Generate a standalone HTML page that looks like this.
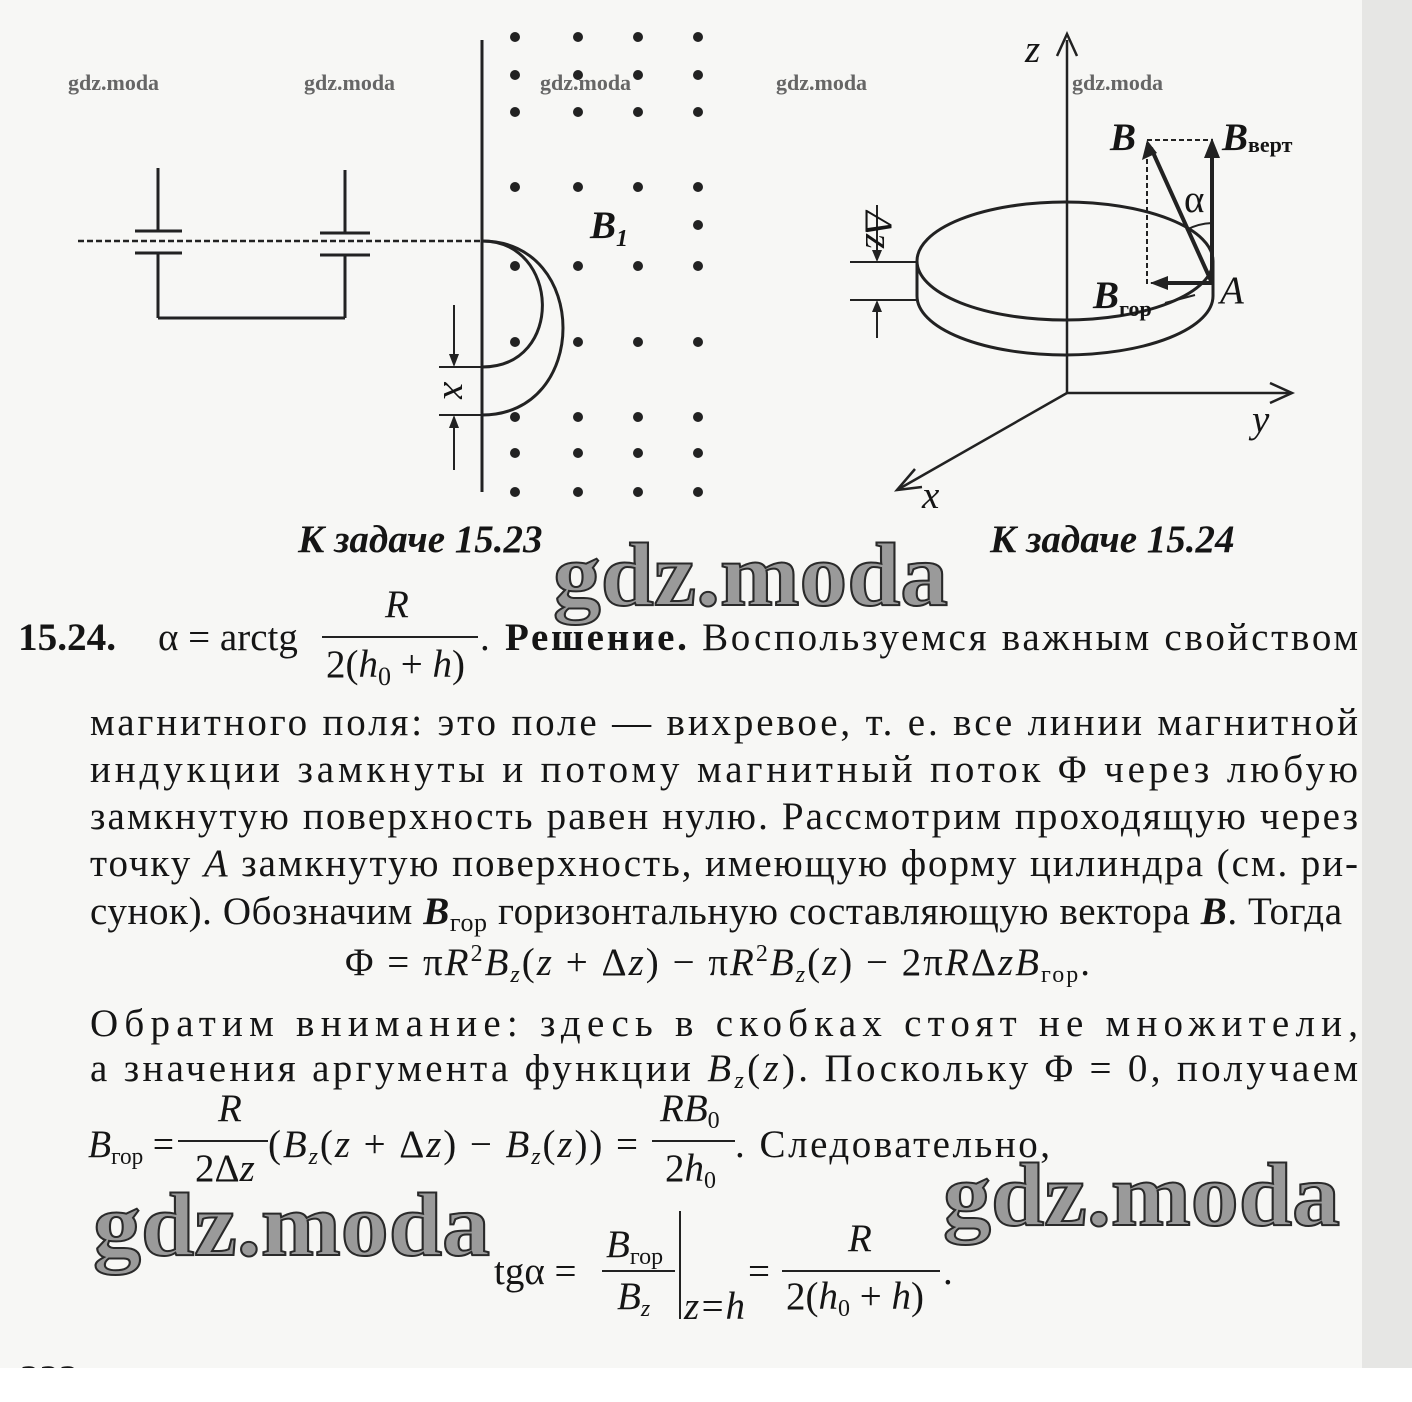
<!DOCTYPE html>
<html><head><meta charset="utf-8"><style>
html,body{margin:0;padding:0;background:#f7f7f5;}
svg{display:block}
.t{font-family:"Liberation Serif",serif;font-size:39px;fill:#151515}
.i{font-style:italic}
.b{font-weight:bold}
.wm{font-family:"Liberation Serif",serif;font-weight:bold;fill:#9a9a9a;stroke:#2a2a2a;stroke-width:2}
.sw{font-family:"Liberation Serif",serif;font-size:22px;fill:#666;font-weight:bold}
</style></head><body>
<svg width="1412" height="1402" viewBox="0 0 1412 1402" xmlns="http://www.w3.org/2000/svg">
<rect x="0" y="0" width="1412" height="1402" fill="#f7f7f5"/>
<rect x="1362" y="0" width="50" height="1368" fill="#e6e6e4"/>

<!-- small watermarks -->
<text class="sw" x="68" y="90">gdz.moda</text>
<text class="sw" x="304" y="90">gdz.moda</text>
<text class="sw" x="540" y="90">gdz.moda</text>
<text class="sw" x="776" y="90">gdz.moda</text>
<text class="sw" x="1072" y="90">gdz.moda</text>

<!-- LEFT FIGURE -->
<g stroke="#222" stroke-width="3" fill="none">
<line x1="482" y1="40" x2="482" y2="492"/>
<line x1="78" y1="241" x2="482" y2="241" stroke-dasharray="6,3" stroke-width="2.5"/>
<line x1="158" y1="168" x2="158" y2="231"/>
<line x1="135" y1="231" x2="182" y2="231"/>
<line x1="135" y1="253" x2="182" y2="253"/>
<line x1="158" y1="253" x2="158" y2="318"/>
<line x1="158" y1="318" x2="345" y2="318"/>
<line x1="345" y1="318" x2="345" y2="255"/>
<line x1="320" y1="233" x2="370" y2="233"/>
<line x1="320" y1="255" x2="370" y2="255"/>
<line x1="345" y1="170" x2="345" y2="233"/>
<path d="M482 241 C560 241 565 367 482 367"/>
<path d="M482 241 C590 241 590 415 482 415"/>
<line x1="439" y1="367" x2="482" y2="367" stroke-width="2"/>
<line x1="439" y1="415" x2="482" y2="415" stroke-width="2"/>
<line x1="454" y1="305" x2="454" y2="360" stroke-width="2"/>
<line x1="454" y1="422" x2="454" y2="470" stroke-width="2"/>
</g>
<polygon points="449,354 459,354 454,367" fill="#222"/>
<polygon points="449,428 459,428 454,415" fill="#222"/>
<text class="t i" x="0" y="0" font-size="30" transform="translate(444,391) rotate(90)" text-anchor="middle">x</text>
<g fill="#222">
<circle cx="515" cy="37" r="5"/><circle cx="578" cy="37" r="5"/><circle cx="638" cy="37" r="5"/><circle cx="698" cy="37" r="5"/>
<circle cx="515" cy="75" r="5"/><circle cx="578" cy="75" r="5"/><circle cx="638" cy="75" r="5"/><circle cx="698" cy="75" r="5"/>
<circle cx="515" cy="112" r="5"/><circle cx="578" cy="112" r="5"/><circle cx="638" cy="112" r="5"/><circle cx="698" cy="112" r="5"/>
<circle cx="515" cy="187" r="5"/><circle cx="578" cy="187" r="5"/><circle cx="638" cy="187" r="5"/><circle cx="698" cy="187" r="5"/>
<circle cx="698" cy="225" r="5"/>
<circle cx="515" cy="266" r="5"/><circle cx="578" cy="266" r="5"/><circle cx="638" cy="266" r="5"/><circle cx="698" cy="266" r="5"/>
<circle cx="515" cy="342" r="5"/><circle cx="578" cy="342" r="5"/><circle cx="638" cy="342" r="5"/><circle cx="698" cy="342" r="5"/>
<circle cx="515" cy="417" r="5"/><circle cx="578" cy="417" r="5"/><circle cx="638" cy="417" r="5"/><circle cx="698" cy="417" r="5"/>
<circle cx="515" cy="453" r="5"/><circle cx="578" cy="453" r="5"/><circle cx="638" cy="453" r="5"/><circle cx="698" cy="453" r="5"/>
<circle cx="515" cy="492" r="5"/><circle cx="578" cy="492" r="5"/><circle cx="638" cy="492" r="5"/><circle cx="698" cy="492" r="5"/>
</g>
<text class="t i b" x="590" y="238" font-size="38">B<tspan font-size="24" dy="8">1</tspan></text>
<text class="t i b" x="298" y="552" font-size="30">К задаче 15.23</text>

<!-- RIGHT FIGURE -->
<g stroke="#222" stroke-width="3" fill="none">
<line x1="1067" y1="40" x2="1067" y2="393" stroke-width="2.5"/>
<polyline points="1057,56 1067,34 1077,56" stroke-width="2.5"/>
<line x1="1067" y1="393" x2="1290" y2="393" stroke-width="2.5"/>
<polyline points="1270,383 1292,393 1270,403" stroke-width="2.5"/>
<line x1="1067" y1="393" x2="897" y2="490" stroke-width="2.5"/>
<polyline points="915,469 897,490 922,487" stroke-width="2.5"/>
<ellipse cx="1065" cy="261" rx="148" ry="59"/>
<path d="M917 296 A148 59 0 0 0 1213 296"/>
<line x1="917" y1="261" x2="917" y2="296"/>
<line x1="1213" y1="261" x2="1213" y2="296"/>
<line x1="850" y1="262" x2="917" y2="262" stroke-width="2"/>
<line x1="850" y1="300" x2="917" y2="300" stroke-width="2"/>
<line x1="877" y1="205" x2="877" y2="255" stroke-width="2"/>
<line x1="877" y1="307" x2="877" y2="338" stroke-width="2"/>
<polyline points="1147,140 1212,140 1212,283 1147,283 1147,140" stroke-width="2" stroke-dasharray="5,3"/>
<line x1="1212" y1="283" x2="1212" y2="150" stroke-width="4"/>
<line x1="1212" y1="283" x2="1151" y2="148" stroke-width="4"/>
<line x1="1212" y1="283" x2="1160" y2="283" stroke-width="4"/>
<line x1="1165" y1="303" x2="1195" y2="295" stroke-width="2"/>
<path d="M1186 230 A60 60 0 0 1 1212 223" stroke-width="2"/>
</g>
<polygon points="872,250 882,250 877,262" fill="#222"/>
<polygon points="872,312 882,312 877,300" fill="#222"/>
<polygon points="1204,158 1220,158 1212,138" fill="#222"/>
<polygon points="1142,160 1157,153 1147,140" fill="#222"/>
<polygon points="1168,276 1168,290 1150,283" fill="#222"/>
<text class="t i" font-size="30" transform="translate(866,230) rotate(90)" text-anchor="middle">Δz</text>
<text class="t i" x="1025" y="62" font-size="32">z</text>
<text class="t i" x="1252" y="432" font-size="32">y</text>
<text class="t i" x="922" y="508" font-size="32">x</text>
<text class="t i b" x="1110" y="150" font-size="38">B</text>
<text class="t i b" x="1222" y="150" font-size="38">B<tspan class="b" font-style="normal" font-size="22" dy="2">верт</tspan></text>
<text class="t" x="1184" y="212" font-size="30">α</text>
<text class="t i" x="1220" y="303" font-size="34">A</text>
<text class="t i b" x="1093" y="308" font-size="38">B<tspan class="b" font-style="normal" font-size="22" dy="8">гор</tspan></text>
<text class="t i b" x="990" y="552" font-size="30">К задаче 15.24</text>

<!-- big watermarks -->
<text class="wm" x="553" y="605" font-size="90" textLength="395" lengthAdjust="spacingAndGlyphs">gdz.moda</text>
<text class="wm" x="93" y="1255" font-size="90" textLength="397" lengthAdjust="spacingAndGlyphs">gdz.moda</text>
<text class="wm" x="943" y="1225" font-size="90" textLength="397" lengthAdjust="spacingAndGlyphs">gdz.moda</text>

<!-- TEXT -->
<g transform="translate(0,-11)">
<text class="t b" x="18" y="661" textLength="98" lengthAdjust="spacingAndGlyphs">15.24.</text>
<text class="t" x="158" y="661">α = arctg</text>
<text class="t i" x="385" y="628">R</text>
<line x1="322" y1="648" x2="478" y2="648" stroke="#222" stroke-width="2"/>
<text class="t" x="326" y="688">2(<tspan class="i">h</tspan><tspan font-size="26" dy="8">0</tspan><tspan dy="-8"> + </tspan><tspan class="i">h</tspan>)</text>
<text class="t" x="480" y="661" textLength="878" lengthAdjust="spacing">. <tspan class="b">Решение.</tspan> Воспользуемся важным свойством</text>

<text class="t" x="90" y="746" textLength="1268" lengthAdjust="spacing">магнитного поля: это поле — вихревое, т. е. все линии магнитной</text>
<text class="t" x="90" y="793" textLength="1268" lengthAdjust="spacing">индукции замкнуты и потому магнитный поток Φ через любую</text>
<text class="t" x="90" y="840" textLength="1268" lengthAdjust="spacing">замкнутую поверхность равен нулю. Рассмотрим проходящую через</text>
<text class="t" x="90" y="887" textLength="1268" lengthAdjust="spacing">точку <tspan class="i">A</tspan> замкнутую поверхность, имеющую форму цилиндра (см. ри-</text>
<text class="t" x="90" y="935" textLength="1252" lengthAdjust="spacing">сунок). Обозначим <tspan class="i b">B</tspan><tspan font-size="26" dy="7">гор</tspan><tspan dy="-7"> горизонтальную составляющую вектора </tspan><tspan class="i b">B</tspan>. Тогда</text>
<text class="t" x="345" y="986" textLength="745" lengthAdjust="spacing">Φ = π<tspan class="i">R</tspan><tspan font-size="24" dy="-14">2</tspan><tspan class="i" dy="14">B</tspan><tspan class="i" font-size="24" dy="7">z</tspan><tspan dy="-7">(</tspan><tspan class="i">z</tspan> + Δ<tspan class="i">z</tspan>) − π<tspan class="i">R</tspan><tspan font-size="24" dy="-14">2</tspan><tspan class="i" dy="14">B</tspan><tspan class="i" font-size="24" dy="7">z</tspan><tspan dy="-7">(</tspan><tspan class="i">z</tspan>) − 2π<tspan class="i">R</tspan>Δ<tspan class="i">zB</tspan><tspan font-size="24" dy="7">гор</tspan><tspan dy="-7">.</tspan></text>
<text class="t" x="90" y="1047" textLength="1268" lengthAdjust="spacing">Обратим внимание: здесь в скобках стоят не множители,</text>
<text class="t" x="90" y="1092" textLength="1268" lengthAdjust="spacing">а значения аргумента функции <tspan class="i">B</tspan><tspan class="i" font-size="24" dy="7">z</tspan><tspan dy="-7">(</tspan><tspan class="i">z</tspan>). Поскольку Φ = 0, получаем</text>

<text class="t" x="88" y="1168" textLength="86" lengthAdjust="spacingAndGlyphs"><tspan class="i">B</tspan><tspan font-size="24" dy="7">гор</tspan><tspan dy="-7"> =</tspan></text>
<text class="t i" x="218" y="1132">R</text>
<line x1="178" y1="1152" x2="268" y2="1152" stroke="#222" stroke-width="2"/>
<text class="t" x="195" y="1192">2Δ<tspan class="i">z</tspan></text>
<text class="t" x="268" y="1168" textLength="370" lengthAdjust="spacing">(<tspan class="i">B</tspan><tspan class="i" font-size="24" dy="7">z</tspan><tspan dy="-7">(</tspan><tspan class="i">z</tspan> + Δ<tspan class="i">z</tspan>) − <tspan class="i">B</tspan><tspan class="i" font-size="24" dy="7">z</tspan><tspan dy="-7">(</tspan><tspan class="i">z</tspan>)) =</text>
<text class="t i" x="660" y="1132">RB<tspan font-style="normal" font-size="24" dy="7">0</tspan></text>
<line x1="652" y1="1152" x2="735" y2="1152" stroke="#222" stroke-width="2"/>
<text class="t" x="665" y="1192">2<tspan class="i">h</tspan><tspan font-size="24" dy="7">0</tspan></text>
<text class="t" x="735" y="1168" textLength="315" lengthAdjust="spacing">. Следовательно,</text>

<text class="t" x="494" y="1295">tgα =</text>
<text class="t i" x="606" y="1268">B<tspan font-style="normal" font-size="24" dy="7">гор</tspan></text>
<line x1="602" y1="1282" x2="675" y2="1282" stroke="#222" stroke-width="2"/>
<text class="t i" x="617" y="1320">B<tspan font-size="24" dy="7">z</tspan></text>
<line x1="680" y1="1222" x2="680" y2="1330" stroke="#222" stroke-width="2"/>
<text class="t i" x="684" y="1330" font-size="24">z=h</text>
<text class="t" x="748" y="1295">=</text>
<text class="t i" x="848" y="1262">R</text>
<line x1="782" y1="1282" x2="940" y2="1282" stroke="#222" stroke-width="2"/>
<text class="t" x="786" y="1320">2(<tspan class="i">h</tspan><tspan font-size="24" dy="7">0</tspan><tspan dy="-7"> + </tspan><tspan class="i">h</tspan>)</text>
<text class="t" x="943" y="1295">.</text>
</g>
<text class="t b" x="20" y="1392" fill="#333">222</text>
<rect x="0" y="1368" width="1412" height="34" fill="#ffffff"/>
</svg>
</body></html>
